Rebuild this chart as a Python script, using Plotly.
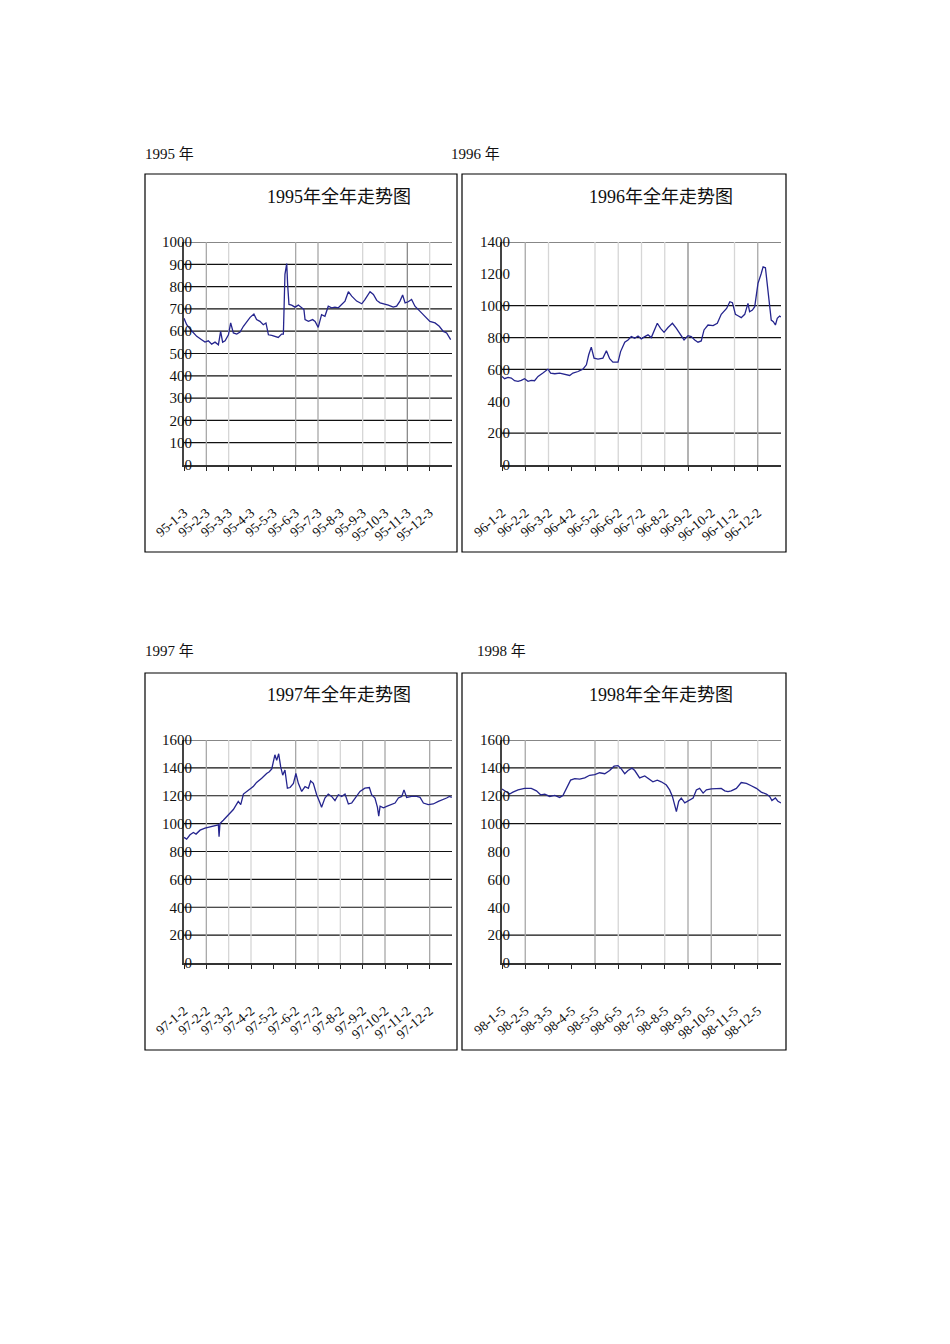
import plotly.graph_objects as go

W, H = 950, 1344

# ---------------- data (month position within year, index level) ----------------
months_1995 = [0, 0.12, 0.34, 0.57, 0.79, 0.94, 1.09, 1.24, 1.39, 1.54, 1.64, 1.73, 1.84, 1.99, 2.09,
               2.21, 2.36, 2.51, 2.66, 2.81, 2.96, 3.13, 3.25, 3.40, 3.55, 3.67, 3.78, 3.93, 4.07,
               4.22, 4.37, 4.45, 4.52, 4.60, 4.64, 4.70, 4.82, 4.97, 5.12, 5.27, 5.37, 5.42, 5.57,
               5.76, 5.87, 6.01, 6.16, 6.31, 6.46, 6.61, 6.76, 6.91, 7.06, 7.21, 7.36, 7.51, 7.73,
               7.96, 8.10, 8.33, 8.48, 8.63, 8.78, 9.00, 9.15, 9.37, 9.52, 9.67, 9.79, 9.90, 10.04,
               10.19, 10.34, 10.57, 10.79, 11.01, 11.24, 11.43, 11.61, 11.76, 11.94]
index_1995 = [658, 629, 602, 577, 562, 551, 557, 542, 551, 539, 599, 551, 557, 584, 637,
              592, 587, 596, 622, 644, 662, 677, 652, 644, 629, 637, 584, 581, 577,
              572, 587, 587, 855, 903, 810, 720, 717, 708, 717, 705, 697, 652, 644,
              652, 644, 617, 674, 667, 712, 705, 708, 705, 720, 735, 777, 757, 735,
              723, 742, 777, 765, 738, 727, 723, 717, 708, 712, 735, 762, 727, 732,
              742, 712, 689, 667, 644, 637, 622, 599, 592, 562]

months_1996 = [0, 0.11, 0.26, 0.40, 0.54, 0.69, 0.83, 0.97, 1.12, 1.26, 1.40, 1.55, 1.76, 1.98, 2.09,
               2.27, 2.48, 2.70, 2.91, 3.05, 3.27, 3.48, 3.63, 3.73, 3.84, 3.96, 4.13, 4.34, 4.49,
               4.63, 4.77, 4.99, 5.10, 5.28, 5.42, 5.56, 5.71, 5.85, 5.99, 6.14, 6.28, 6.42, 6.57,
               6.68, 6.82, 6.97, 7.14, 7.33, 7.50, 7.68, 7.83, 8.00, 8.14, 8.29, 8.43, 8.57, 8.69,
               8.86, 9.08, 9.26, 9.43, 9.66, 9.80, 9.91, 10.04, 10.15, 10.29, 10.44, 10.58, 10.65,
               10.77, 10.87, 11.01, 11.15, 11.23, 11.33, 11.41, 11.51, 11.58, 11.67, 11.76, 11.84,
               11.94, 12.0]
index_1996 = [556, 542, 550, 546, 529, 525, 531, 542, 525, 531, 529, 556, 577, 602, 577,
              573, 577, 571, 562, 577, 587, 602, 629, 692, 740, 671, 665, 671, 717,
              667, 646, 646, 712, 771, 785, 806, 796, 810, 792, 806, 817, 800, 854,
              890, 858, 833, 863, 890, 858, 821, 785, 812, 806, 785, 771, 779, 848,
              879, 875, 890, 946, 983, 1025, 1019, 946, 937, 925, 946, 1015, 962,
              973, 994, 1140, 1202, 1244, 1238, 1129, 962, 910, 900, 879, 921,
              935, 929]

months_1997 = [0, 0.12, 0.27, 0.42, 0.54, 0.72, 0.94, 1.16, 1.39, 1.54, 1.57, 1.61, 1.76, 1.99, 2.21,
               2.43, 2.54, 2.66, 2.88, 3.10, 3.25, 3.48, 3.70, 3.82, 3.93, 4.07, 4.15, 4.24, 4.33,
               4.42, 4.52, 4.63, 4.75, 4.90, 5.01, 5.12, 5.27, 5.42, 5.57, 5.67, 5.79, 5.94, 6.09,
               6.16, 6.31, 6.46, 6.61, 6.76, 6.91, 7.06, 7.21, 7.36, 7.51, 7.66, 7.88, 8.10, 8.30,
               8.40, 8.55, 8.66, 8.72, 8.78, 8.93, 9.10, 9.30, 9.45, 9.60, 9.75, 9.85, 9.97, 10.19,
               10.42, 10.57, 10.72, 10.94, 11.16, 11.39, 11.61, 11.76, 11.88, 11.99]
index_1997 = [901, 889, 920, 936, 925, 953, 967, 976, 984, 991, 906, 1000, 1024, 1066, 1101,
              1160, 1136, 1212, 1242, 1266, 1296, 1325, 1360, 1372, 1393, 1494, 1454, 1501, 1407,
              1348, 1384, 1254, 1259, 1289, 1360, 1289, 1231, 1266, 1254, 1306, 1289, 1207, 1148,
              1118, 1184, 1212, 1195, 1165, 1207, 1195, 1212, 1141, 1148, 1184, 1231, 1254, 1259,
              1207, 1184, 1118, 1054, 1125, 1113, 1125, 1136, 1148, 1184, 1195, 1242, 1188, 1195,
              1195, 1188, 1148, 1136, 1141, 1160, 1172, 1184, 1195, 1188]

months_1998 = [0, 0.19, 0.33, 0.47, 0.69, 0.97, 1.26, 1.48, 1.66, 1.84, 2.05, 2.27, 2.48, 2.62, 2.77,
               2.95, 3.13, 3.34, 3.56, 3.77, 3.99, 4.20, 4.42, 4.63, 4.82, 4.99, 5.13, 5.28, 5.42,
               5.59, 5.71, 5.92, 6.14, 6.35, 6.49, 6.68, 6.85, 7.07, 7.21, 7.33, 7.43, 7.50, 7.60,
               7.71, 7.86, 8.03, 8.22, 8.36, 8.50, 8.65, 8.79, 9.00, 9.22, 9.43, 9.58, 9.72, 9.86,
               10.08, 10.29, 10.51, 10.72, 10.94, 11.15, 11.37, 11.51, 11.61, 11.76, 11.87, 12.0]
index_1998 = [1249, 1230, 1212, 1226, 1242, 1253, 1253, 1235, 1207, 1212, 1195, 1202, 1188, 1202, 1253,
              1312, 1323, 1319, 1328, 1347, 1351, 1365, 1358, 1381, 1412, 1416, 1393, 1358, 1381,
              1398, 1381, 1328, 1342, 1319, 1300, 1312, 1300, 1277, 1242, 1195, 1126, 1086, 1160,
              1184, 1149, 1165, 1184, 1242, 1253, 1219, 1242, 1249, 1253, 1253, 1235, 1230, 1235,
              1253, 1295, 1288, 1272, 1253, 1226, 1212, 1195, 1165, 1184, 1160, 1149]

labels_1995 = ["95-1-3", "95-2-3", "95-3-3", "95-4-3", "95-5-3", "95-6-3",
               "95-7-3", "95-8-3", "95-9-3", "95-10-3", "95-11-3", "95-12-3"]
labels_1996 = ["96-1-2", "96-2-2", "96-3-2", "96-4-2", "96-5-2", "96-6-2",
               "96-7-2", "96-8-2", "96-9-2", "96-10-2", "96-11-2", "96-12-2"]
labels_1997 = ["97-1-2", "97-2-2", "97-3-2", "97-4-2", "97-5-2", "97-6-2",
               "97-7-2", "97-8-2", "97-9-2", "97-10-2", "97-11-2", "97-12-2"]
labels_1998 = ["98-1-5", "98-2-5", "98-3-5", "98-4-5", "98-5-5", "98-6-5",
               "98-7-5", "98-8-5", "98-9-5", "98-10-5", "98-11-5", "98-12-5"]

# horizontal gridline values visible in each chart
hgrid_1995 = [100, 200, 300, 400, 500, 600, 700, 800, 900, 1000]
hgrid_1996 = [200, 600, 800, 1000, 1400]
hgrid_1997 = [200, 400, 600, 800, 1000, 1200, 1400, 1600]
hgrid_1998 = [200, 1000, 1200, 1400, 1600]

# vertical gridlines (month boundaries) visible in each chart
vgrid_1995 = [1, 2, 5, 6, 8, 9, 10, 11]
vgrid_1996 = [1, 2, 4, 5, 6, 7, 8, 10, 11]
vgrid_1997 = [1, 2, 3, 5, 6, 7, 8, 9, 11]
vgrid_1998 = [1, 4, 5, 7, 8, 9, 11]

# ---------------- styles / layout ----------------
SHADE = {"d": "#8a8a8a", "m": "#a8a8a8", "l": "#d6d6d6"}
vshade_1995 = ["m", "l", "m", "m", "l", "l", "d", "l"]
vshade_1996 = ["m", "l", "l", "l", "l", "l", "d", "l", "m"]
vshade_1997 = ["m", "l", "l", "m", "l", "l", "m", "m", "m"]
vshade_1998 = ["m", "m", "l", "l", "m", "m", "l"]

SERIF = "Liberation Serif, Noto Sans CJK SC, serif"
LINE = "#25258e"

panels = [
    dict(year="1995", x=months_1995, y=index_1995, ymax=1000, dtick=100, labels=labels_1995,
         hgrid=hgrid_1995, vgrid=vgrid_1995, vshade=vshade_1995,
         box=(145, 174, 457, 552), plot=(184, 242, 452, 465), cap=(143, 154), title_x=339, title_y=197),
    dict(year="1996", x=months_1996, y=index_1996, ymax=1400, dtick=200, labels=labels_1996,
         hgrid=hgrid_1996, vgrid=vgrid_1996, vshade=vshade_1996,
         box=(462, 174, 786, 552), plot=(502, 242, 781, 465), cap=(449, 154), title_x=661, title_y=197),
    dict(year="1997", x=months_1997, y=index_1997, ymax=1600, dtick=200, labels=labels_1997,
         hgrid=hgrid_1997, vgrid=vgrid_1997, vshade=vshade_1997,
         box=(145, 673, 457, 1050), plot=(184, 740, 452, 963), cap=(143, 651), title_x=339, title_y=695),
    dict(year="1998", x=months_1998, y=index_1998, ymax=1600, dtick=200, labels=labels_1998,
         hgrid=hgrid_1998, vgrid=vgrid_1998, vshade=vshade_1998,
         box=(462, 673, 786, 1050), plot=(502, 740, 781, 963), cap=(475, 651), title_x=661, title_y=695),
]

fig = go.Figure()
shapes = []
annotations = []


def px(xp):
    return xp / W


def py(yp):
    return 1 - yp / H


for i, p in enumerate(panels, start=1):
    xa = "x" if i == 1 else f"x{i}"
    ya = "y" if i == 1 else f"y{i}"
    xk = "xaxis" if i == 1 else f"xaxis{i}"
    yk = "yaxis" if i == 1 else f"yaxis{i}"
    x0, y0, x1, y1 = p["plot"]

    fig.add_trace(go.Scatter(x=p["x"], y=p["y"], mode="lines", xaxis=xa, yaxis=ya,
                             line=dict(color=LINE, width=1.3), showlegend=False,
                             hoverinfo="skip"))

    fig.layout[xk] = dict(
        domain=[px(x0), px(x1)], range=[0, 12], anchor=ya, automargin=False,
        showgrid=False, zeroline=False, showline=True, linecolor="#333333", linewidth=1.5,
        ticks="outside", ticklen=4, tickcolor="#222222", tickwidth=1,
        tickmode="array", tickvals=list(range(12)), ticktext=p["labels"],
        tickangle=-40, tickfont=dict(family=SERIF, size=13.5, color="#111111"),
        ticklabelstandoff=29, fixedrange=True,
    )
    fig.layout[yk] = dict(
        domain=[py(y1), py(y0)], range=[0, p["ymax"]], anchor=xa, automargin=False,
        showgrid=False, zeroline=False, showline=True, linecolor="#444444", linewidth=2,
        ticks="", tickmode="linear", tick0=0, dtick=p["dtick"],
        tickfont=dict(family=SERIF, size=15, color="#111111"),
        ticklabelstandoff=-13, fixedrange=True,
    )

    xdom = "x domain" if i == 1 else f"x{i} domain"
    ydom = "y domain" if i == 1 else f"y{i} domain"
    for v in p["hgrid"]:
        shapes.append(dict(type="line", xref=xdom, yref=ya, x0=0, x1=1, y0=v, y1=v,
                           line=dict(color="#111111", width=1.2), layer="below"))
    for v, s in zip(p["vgrid"], p["vshade"]):
        shapes.append(dict(type="line", xref=xa, yref=ydom, x0=v, x1=v, y0=0, y1=1,
                           line=dict(color=SHADE[s], width=1.3), layer="below"))

    bx0, by0, bx1, by1 = p["box"]
    shapes.append(dict(type="rect", xref="paper", yref="paper",
                       x0=px(bx0), x1=px(bx1), y0=py(by1), y1=py(by0),
                       line=dict(color="#000000", width=1.2), fillcolor="rgba(0,0,0,0)"))

    annotations.append(dict(text=f"{p['year']}年全年走势图", xref="paper", yref="paper",
                            x=px(p["title_x"]), y=py(p["title_y"]), xanchor="center", yanchor="middle",
                            showarrow=False, font=dict(family=SERIF, size=18, color="#111111")))
    cx, cy = p["cap"]
    annotations.append(dict(text=f"{p['year']} 年", xref="paper", yref="paper",
                            x=px(cx), y=py(cy), xanchor="left", yanchor="middle",
                            showarrow=False, font=dict(family=SERIF, size=15, color="#111111")))

fig.update_layout(
    template="none",
    width=W, height=H, margin=dict(l=0, r=0, t=0, b=0, autoexpand=False),
    paper_bgcolor="white", plot_bgcolor="white",
    shapes=shapes, annotations=annotations, showlegend=False,
)

fig.write_html("out.html")
